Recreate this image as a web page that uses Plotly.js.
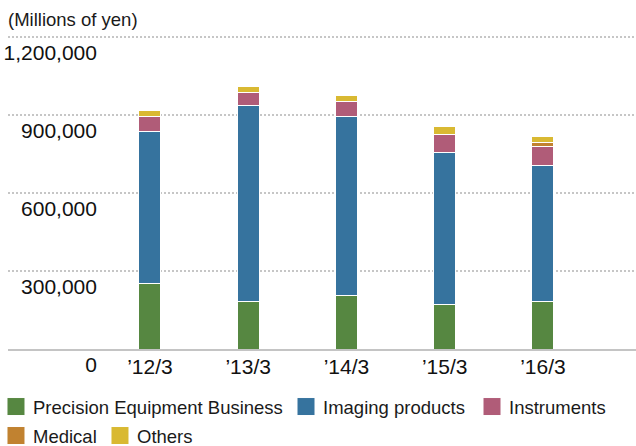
<!DOCTYPE html>
<html>
<head>
<meta charset="utf-8">
<script src="https://cdn.plot.ly/plotly-3.0.1.min.js"></script>
<style>
html,body{margin:0;padding:0;background:#fff;}
#chart{width:636px;height:446px;}
#chart .infolayer .legendpoints path{d:path("M12,9H-6V-9H12Z") !important;}
#chart .infolayer .scrollbox{clip-path:none !important;}
#chart .infolayer .scrollbar{display:none;}
</style>
</head>
<body>
<div id="chart"></div>
<script>
var categories = ["\u201912/3", "\u201913/3", "\u201914/3", "\u201915/3", "\u201916/3"];
var precisionEquipment = [251000, 183000, 205000, 172000, 182000];
var imagingProducts = [585000, 752000, 688000, 585000, 523000];
var instruments = [57000, 52000, 60000, 68000, 72000];
var medical = [null, null, null, null, 16000];
var others = [26000, 23000, 23000, 30000, 24000];
var yTickVals = [0, 300000, 600000, 900000, 1200000];
var yTickText = ["0", "300,000", "600,000", "900,000", "1,200,000"];
var unitLabel = "(Millions of yen)";

var seriesNames = ["Precision Equipment Business", "Imaging products", "Instruments", "Medical", "Others"];
var seriesValues = [precisionEquipment, imagingProducts, instruments, medical, others];
var seriesColors = ["#568741", "#36739e", "#b05c78", "#c18230", "#d9b932"];
var legendIds = ["legend", "legend2", "legend3", "legend4", "legend5"];

var traces = seriesNames.map(function (n, i) {
  return {
    type: "bar", name: n, x: categories, y: seriesValues[i], legend: legendIds[i],
    marker: {color: seriesColors[i], line: {color: "#ffffff", width: 1}},
    hoverinfo: "skip"
  };
});

var font = "Liberation Sans, Arial, sans-serif";
var legendFont = {family: font, size: 18.5, color: "#1a1a1a"};
function legendAt(x, y) {
  return {orientation: "h", x: x, xanchor: "left", y: y, yanchor: "middle",
          font: legendFont, bgcolor: "rgba(0,0,0,0)", borderwidth: 0};
}
var layout = {
  width: 636, height: 446,
  margin: {l: 8, r: 0, t: 24, b: 97, autoexpand: false},
  barmode: "stack", bargap: 0.776,
  paper_bgcolor: "#fff", plot_bgcolor: "#fff",
  font: {family: font, color: "#1a1a1a"},
  showlegend: true,
  legend: legendAt(-0.0239, -0.1785),
  legend2: legendAt(0.4379, -0.1785),
  legend3: legendAt(0.7341, -0.1785),
  legend4: legendAt(-0.0239, -0.2677),
  legend5: legendAt(0.1417, -0.2677),
  xaxis: {type: "category", range: [-1.445, 4.947], showgrid: false, zeroline: false,
          showline: true, linecolor: "#c4c4c4", linewidth: 2,
          ticks: "", ticklabelstandoff: -2, tickfont: {family: font, size: 21, color: "#111"}},
  yaxis: {range: [0, 1250000], anchor: "free", position: 0.1417, side: "left",
          tickmode: "array", tickvals: yTickVals, ticktext: yTickText,
          showgrid: true, gridcolor: "#c6c6c6", gridwidth: 2, griddash: "2px,2px",
          zeroline: false, showline: false, ticks: "", ticklabelshift: 16,
          tickfont: {family: font, size: 21, color: "#111"}},
  annotations: [{xref: "paper", yref: "paper", x: -0.003, y: 1, yshift: 5, xanchor: "left", yanchor: "middle",
                 text: unitLabel, showarrow: false, font: {family: font, size: 18.5, color: "#1a1a1a"}}]
};

Plotly.newPlot("chart", traces, layout, {staticPlot: true}).then(function (gd) {
  gd.querySelectorAll(".infolayer .legendpoints path").forEach(function (p) {
    p.setAttribute("d", "M12,9H-6V-9H12Z");
  });
});
</script>
</body>
</html>
